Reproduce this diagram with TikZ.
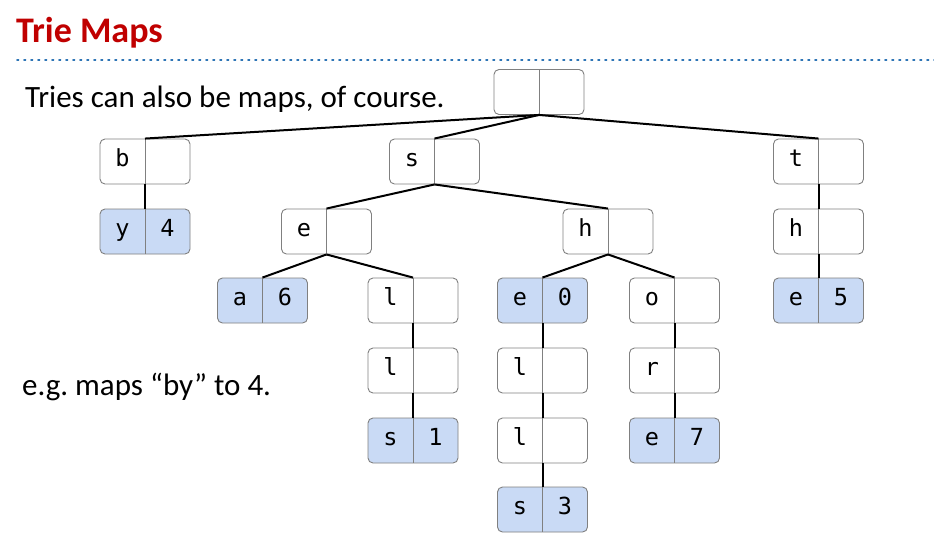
\documentclass[tikz,border=0pt]{standalone}
\usepackage{fontspec}
\setmainfont{Carlito}
\newfontfamily\monofont{DejaVu Sans Mono}
\usetikzlibrary{calc}
\definecolor{titlered}{HTML}{C00000}
\definecolor{rulerblue}{HTML}{2E75B6}
\definecolor{boxgray}{HTML}{808080}
\definecolor{leafblue}{HTML}{C9DAF5}
\tikzset{
  cell/.style={draw=boxgray, line width=0.9pt, rounded corners=5pt,
    minimum width=90pt, minimum height=45pt, inner sep=0pt},
  inner/.style={cell, fill=white},
  leaf/.style={cell, fill=leafblue},
  keytext/.style={font=\monofont\fontsize{23.5}{23.5}\selectfont, inner sep=0pt},
  edge/.style={line width=2pt, black},
  prose/.style={anchor=base west, inner sep=0pt, font=\fontsize{31}{31}\selectfont},
}
% #1 style, #2 name, #3 x, #4 y, #5 key, #6 value
\newcommand\triebox[6]{%
  \node[#1] (#2) at (#3,#4) {};
  \draw[boxgray, line width=0.9pt] (#2.north) -- (#2.south);
  \node[keytext, xshift=-22.5pt] at (#2.center) {\strut #5};
  \node[keytext, xshift=22.5pt] at (#2.center) {\strut #6};
}
\frenchspacing
\begin{document}
\begin{tikzpicture}[x=1pt, y=-1pt]
\useasboundingbox (0,0) rectangle (934,539);
\fill[white] (0,0) rectangle (934,539);

% heading and rule
\node[anchor=base west, inner sep=0pt, text=titlered,
  font=\bfseries\fontsize{36}{36}\selectfont] (title) at (16,42) {Trie Maps};
\draw[rulerblue, line width=1.6pt, dash pattern=on 1.6pt off 5.4pt, line cap=round]
  (17,60) -- (934,60);

\node[prose] (intro) at (25,107) {Tries can also be maps, of course.};
\node[prose] (example) at (22,395) {e.g. maps “by” to 4.};

% trie nodes
\triebox{inner}{root}{539}{92}{}{}
\triebox{inner}{b}{145}{161.5}{b}{}
\triebox{inner}{s}{434.5}{161.5}{s}{}
\triebox{inner}{t}{818.5}{161.5}{t}{}
\triebox{leaf}{by}{145}{231.5}{y}{4}
\triebox{inner}{se}{326.5}{231.5}{e}{}
\triebox{inner}{sh}{608}{231.5}{h}{}
\triebox{inner}{th}{818.5}{231.5}{h}{}
\triebox{leaf}{sea}{262.5}{300.5}{a}{6}
\triebox{inner}{sel}{413}{300.5}{l}{}
\triebox{leaf}{she}{542.5}{300.5}{e}{0}
\triebox{inner}{sho}{674.5}{300.5}{o}{}
\triebox{leaf}{the}{818.5}{300.5}{e}{5}
\triebox{inner}{sell}{413}{370.5}{l}{}
\triebox{inner}{shel}{542.5}{370.5}{l}{}
\triebox{inner}{shor}{674.5}{370.5}{r}{}
\triebox{leaf}{sells}{413}{440.5}{s}{1}
\triebox{inner}{shell}{542.5}{440.5}{l}{}
\triebox{leaf}{shore}{674.5}{440.5}{e}{7}
\triebox{leaf}{shells}{542.5}{509.5}{s}{3}

% links from parent to child
\foreach \p/\c in {root/b, root/s, root/t, b/by, s/se, s/sh, t/th,
  se/sea, se/sel, sh/she, sh/sho, th/the, sel/sell, she/shel, sho/shor,
  sell/sells, shel/shell, shor/shore, shell/shells}
  \draw[edge] (\p.south) -- (\c.north);
\end{tikzpicture}
\end{document}
